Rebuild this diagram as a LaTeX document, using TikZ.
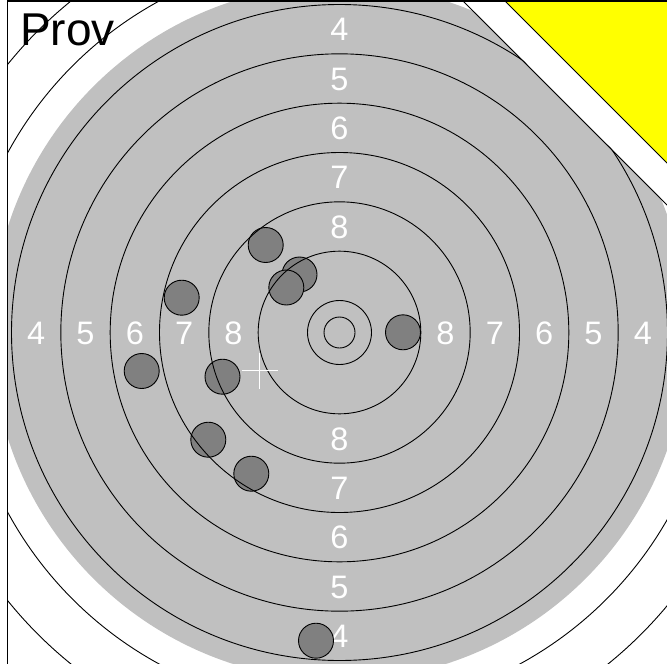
\documentclass[tikz,border=0pt]{standalone}
\usepackage{fontspec}
\setmainfont{Liberation Sans}
\definecolor{diskgray}{RGB}{192,192,192}
\definecolor{holegray}{RGB}{128,128,128}
\definecolor{targetyellow}{RGB}{255,255,0}
\begin{document}
\begin{tikzpicture}[x=1pt,y=-1pt,
  ringline/.style={black, line width=0.9pt},
  hole/.style={circle, fill=holegray, draw=black, line width=0.9pt, minimum size=35pt, inner sep=0pt},
  lbl/.style={text=white, font=\fontsize{32.5}{32.5}\selectfont, inner sep=0pt, anchor=base},
  crossline/.style={white, line width=1pt},
  frameline/.style={black, line width=1.5pt},
  diagline/.style={black, line width=0.9pt}
]
\useasboundingbox (0,0) rectangle (667,664);
\fill[white] (0,0) rectangle (667,664);
\coordinate (c) at (339.5,332.5);
\begin{scope}
\clip (7.5,1) rectangle (667,664);
% gray aiming disk
\fill[diskgray] (c) circle[radius=348pt];
% ring labels
\foreach \n in {4,...,8}{
  \pgfmathsetmacro\m{303.333-(\n-4)*49.333}
  \node[lbl] (top\n) at (339.5,{344.2-\m}) {\n};
  \node[lbl] (bot\n) at (339.5,{344.2+\m}) {\n};
  \node[lbl] (lft\n) at ({339.5-\m},344.2) {\n};
  \node[lbl] (rgt\n) at ({339.5+\m},344.2) {\n};
}
% shot holes
\node[hole] (h1) at (265.7,245) {};
\node[hole] (h2) at (299.5,274.5) {};
\node[hole] (h3) at (286.3,287.5) {};
\node[hole] (h4) at (181.7,297.7) {};
\node[hole] (h5) at (403,332.3) {};
\node[hole] (h6) at (141.7,371) {};
\node[hole] (h7) at (222.5,376.7) {};
\node[hole] (h8) at (208.3,439.7) {};
\node[hole] (h9) at (251.3,473.7) {};
\node[hole] (h10) at (316,640.7) {};
% scoring rings
\foreach \r in {15.5,32,81.33,130.67,180,229.33,278.67,328,377.3,426.6}{
  \draw[ringline] (c) circle[radius=\r pt];
}
% centre-of-group cross
\coordinate (x0) at (259.5,370.5);
\draw[crossline] (241.5,370.5) -- (277.5,370.5);
\draw[crossline] (259.5,352.5) -- (259.5,388.5);
% corner band and yellow corner
\fill[white] (463,0) -- (668,205) -- (668,0) -- cycle;
\fill[targetyellow] (505,1) -- (668,164) -- (668,1) -- cycle;
\draw[diagline] (462,0) -- (668,206);
\draw[diagline] (504,0) -- (668,164);
\end{scope}
% title
\node[font=\fontsize{46}{46}\selectfont, anchor=base west, inner sep=0pt] (prov) at (20,45) {Prov};
% frame
\draw[frameline] (7.5,664) -- (7.5,1) -- (667,1);
\end{tikzpicture}
\end{document}
